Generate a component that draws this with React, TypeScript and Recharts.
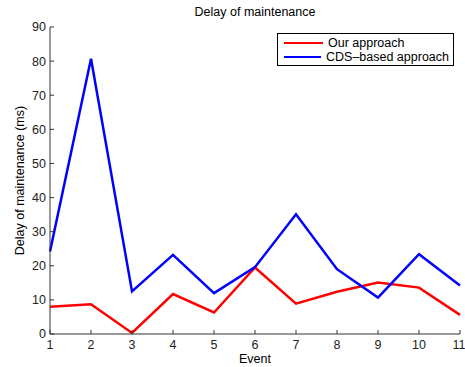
import { LineChart, Line, XAxis, YAxis } from "recharts";

/* ── Data ───────────────────────────────────────────── */
const events = [1, 2, 3, 4, 5, 6, 7, 8, 9, 10, 11];
const ourApproach = [8.0, 8.7, 0.3, 11.7, 6.3, 19.5, 8.9, 12.4, 15.1, 13.6, 5.6];
const cdsApproach = [24.2, 80.7, 12.5, 23.2, 12.0, 19.6, 35.1, 19.0, 10.7, 23.4, 14.2];
const yTicks = [0, 10, 20, 30, 40, 50, 60, 70, 80, 90];

const seriesNames = ["Our approach", "CDS\u2013based approach"];
const seriesColors = ["#ff0000", "#0000ff"];

const data = events.map((e, i) => ({
	event: e,
	our: ourApproach[i],
	cds: cdsApproach[i],
}));

const FONT = "Arial, 'Liberation Sans', Helvetica, sans-serif";
const AXIS = "#333";

// legend box drawn like Matlab's, sits over the plot's top-right corner
function MatlabLegend() {
	return (
		<div
			style={{
				position: "absolute",
				left: 277,
				top: 33,
				width: 165,
				border: "1px solid #000",
				background: "#fff",
				padding: "2px 4px 1px 6px",
				fontFamily: FONT,
				fontSize: 12.5,
				color: "#000",
				lineHeight: "14px",
			}}
		>
			{seriesNames.map((n, i) => (
				<div key={n} style={{ display: "flex", alignItems: "center" }}>
					<span
						style={{
							display: "inline-block",
							width: 39,
							height: 2.5,
							background: seriesColors[i],
							marginRight: 5,
						}}
					/>
					<span style={{ whiteSpace: "nowrap" }}>{n}</span>
				</div>
			))}
		</div>
	);
}

export default function App() {
	return (
		<div
			style={{
				position: "absolute",
				left: 0,
				top: 0,
				width: 465,
				height: 367,
				background: "#fff",
			}}
		>
			<div
				style={{
					position: "absolute",
					top: 5,
					left: 0,
					width: 510,
					textAlign: "center",
					fontFamily: FONT,
					fontSize: 12.5,
					color: "#000",
					lineHeight: "14px",
				}}
			>
				Delay of maintenance
			</div>
			<LineChart
				width={465}
				height={367}
				data={data}
				margin={{ top: 27, right: 5, bottom: 0, left: 0 }}
			>
				<XAxis
					dataKey="event"
					type="number"
					domain={[1, 11]}
					ticks={events}
					height={33}
					stroke={AXIS}
					tickSize={-4}
					tickMargin={10}
					tick={{ fill: "#222", fontSize: 12.5, fontFamily: FONT }}
					label={{
						value: "Event",
						position: "insideBottom",
						offset: 4,
						style: { fill: "#000", fontSize: 12.5, fontFamily: FONT },
					}}
				/>
				<YAxis
					type="number"
					domain={[0, 90]}
					ticks={yTicks}
					width={50}
					stroke={AXIS}
					tickSize={-4}
					tickMargin={8}
					tick={{ fill: "#222", fontSize: 12.5, fontFamily: FONT }}
					label={{
						value: "Delay of maintenance (ms)",
						angle: -90,
						position: "insideLeft",
						offset: 20,
						style: {
							fill: "#000",
							fontSize: 12.5,
							fontFamily: FONT,
							textAnchor: "middle",
						},
					}}
				/>
				<Line
					dataKey="our"
					name={seriesNames[0]}
					stroke={seriesColors[0]}
					strokeWidth={2.5}
					dot={false}
					isAnimationActive={false}
				/>
				<Line
					dataKey="cds"
					name={seriesNames[1]}
					stroke={seriesColors[1]}
					strokeWidth={2.5}
					dot={false}
					isAnimationActive={false}
				/>
			</LineChart>
			<MatlabLegend />
		</div>
	);
}
